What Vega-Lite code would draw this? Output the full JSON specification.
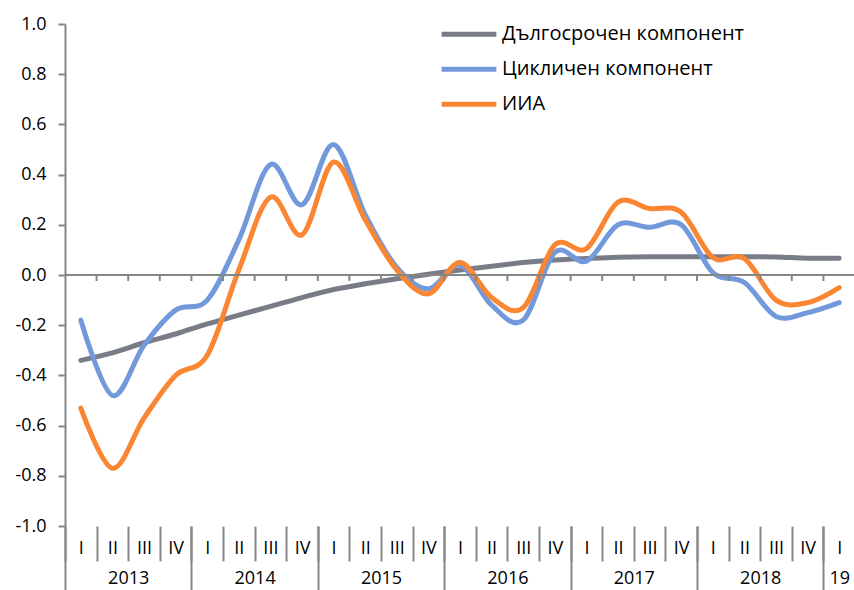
{
  "$schema": "https://vega.github.io/schema/vega-lite/v6.json",
  "width": 790,
  "height": 502,
  "autosize": "none",
  "padding": {"left": 65, "top": 24, "right": 0, "bottom": 64},
  "background": "white",
  "config": {
    "view": {"stroke": null},
    "font": "Open Sans",
    "axis": {"labelFont": "Open Sans", "labelColor": "#000000", "grid": false, "title": null}
  },
  "datasets": {
    "series": [
      {"t": 0, "s": "Дългосрочен компонент", "v": -0.34},
      {"t": 1, "s": "Дългосрочен компонент", "v": -0.31},
      {"t": 2, "s": "Дългосрочен компонент", "v": -0.27},
      {"t": 3, "s": "Дългосрочен компонент", "v": -0.235},
      {"t": 4, "s": "Дългосрочен компонент", "v": -0.195},
      {"t": 5, "s": "Дългосрочен компонент", "v": -0.16},
      {"t": 6, "s": "Дългосрочен компонент", "v": -0.125},
      {"t": 7, "s": "Дългосрочен компонент", "v": -0.09},
      {"t": 8, "s": "Дългосрочен компонент", "v": -0.058},
      {"t": 9, "s": "Дългосрочен компонент", "v": -0.035},
      {"t": 10, "s": "Дългосрочен компонент", "v": -0.015},
      {"t": 11, "s": "Дългосрочен компонент", "v": 0.003},
      {"t": 12, "s": "Дългосрочен компонент", "v": 0.02},
      {"t": 13, "s": "Дългосрочен компонент", "v": 0.035},
      {"t": 14, "s": "Дългосрочен компонент", "v": 0.05},
      {"t": 15, "s": "Дългосрочен компонент", "v": 0.06},
      {"t": 16, "s": "Дългосрочен компонент", "v": 0.066},
      {"t": 17, "s": "Дългосрочен компонент", "v": 0.071},
      {"t": 18, "s": "Дългосрочен компонент", "v": 0.073},
      {"t": 19, "s": "Дългосрочен компонент", "v": 0.073},
      {"t": 20, "s": "Дългосрочен компонент", "v": 0.073},
      {"t": 21, "s": "Дългосрочен компонент", "v": 0.073},
      {"t": 22, "s": "Дългосрочен компонент", "v": 0.072},
      {"t": 23, "s": "Дългосрочен компонент", "v": 0.067},
      {"t": 24, "s": "Дългосрочен компонент", "v": 0.067},
      {"t": 0, "s": "Цикличен компонент", "v": -0.18},
      {"t": 1, "s": "Цикличен компонент", "v": -0.48},
      {"t": 2, "s": "Цикличен компонент", "v": -0.28},
      {"t": 3, "s": "Цикличен компонент", "v": -0.14},
      {"t": 4, "s": "Цикличен компонент", "v": -0.10},
      {"t": 5, "s": "Цикличен компонент", "v": 0.14},
      {"t": 6, "s": "Цикличен компонент", "v": 0.44},
      {"t": 7, "s": "Цикличен компонент", "v": 0.28},
      {"t": 8, "s": "Цикличен компонент", "v": 0.52},
      {"t": 9, "s": "Цикличен компонент", "v": 0.24},
      {"t": 10, "s": "Цикличен компонент", "v": 0.03},
      {"t": 11, "s": "Цикличен компонент", "v": -0.055},
      {"t": 12, "s": "Цикличен компонент", "v": 0.04},
      {"t": 13, "s": "Цикличен компонент", "v": -0.12},
      {"t": 14, "s": "Цикличен компонент", "v": -0.18},
      {"t": 15, "s": "Цикличен компонент", "v": 0.09},
      {"t": 16, "s": "Цикличен компонент", "v": 0.055},
      {"t": 17, "s": "Цикличен компонент", "v": 0.20},
      {"t": 18, "s": "Цикличен компонент", "v": 0.19},
      {"t": 19, "s": "Цикличен компонент", "v": 0.20},
      {"t": 20, "s": "Цикличен компонент", "v": 0.01},
      {"t": 21, "s": "Цикличен компонент", "v": -0.03},
      {"t": 22, "s": "Цикличен компонент", "v": -0.165},
      {"t": 23, "s": "Цикличен компонент", "v": -0.15},
      {"t": 24, "s": "Цикличен компонент", "v": -0.11},
      {"t": 0, "s": "ИИА", "v": -0.53},
      {"t": 1, "s": "ИИА", "v": -0.77},
      {"t": 2, "s": "ИИА", "v": -0.57},
      {"t": 3, "s": "ИИА", "v": -0.40},
      {"t": 4, "s": "ИИА", "v": -0.32},
      {"t": 5, "s": "ИИА", "v": 0.02},
      {"t": 6, "s": "ИИА", "v": 0.31},
      {"t": 7, "s": "ИИА", "v": 0.16},
      {"t": 8, "s": "ИИА", "v": 0.45},
      {"t": 9, "s": "ИИА", "v": 0.22},
      {"t": 10, "s": "ИИА", "v": 0.02},
      {"t": 11, "s": "ИИА", "v": -0.075},
      {"t": 12, "s": "ИИА", "v": 0.05},
      {"t": 13, "s": "ИИА", "v": -0.09},
      {"t": 14, "s": "ИИА", "v": -0.13},
      {"t": 15, "s": "ИИА", "v": 0.12},
      {"t": 16, "s": "ИИА", "v": 0.105},
      {"t": 17, "s": "ИИА", "v": 0.29},
      {"t": 18, "s": "ИИА", "v": 0.265},
      {"t": 19, "s": "ИИА", "v": 0.25},
      {"t": 20, "s": "ИИА", "v": 0.07},
      {"t": 21, "s": "ИИА", "v": 0.065},
      {"t": 22, "s": "ИИА", "v": -0.10},
      {"t": 23, "s": "ИИА", "v": -0.11},
      {"t": 24, "s": "ИИА", "v": -0.05}
    ],
    "bounds": [
      {"b": 0.5}, {"b": 1.5}, {"b": 2.5}, {"b": 3.5}, {"b": 4.5}, {"b": 5.5},
      {"b": 6.5}, {"b": 7.5}, {"b": 8.5}, {"b": 9.5}, {"b": 10.5}, {"b": 11.5},
      {"b": 12.5}, {"b": 13.5}, {"b": 14.5}, {"b": 15.5}, {"b": 16.5}, {"b": 17.5},
      {"b": 18.5}, {"b": 19.5}, {"b": 20.5}, {"b": 21.5}, {"b": 22.5}, {"b": 23.5}
    ]
  },
  "layer": [
    {
      "data": {"name": "series"},
      "mark": {"type": "line", "strokeWidth": 5, "interpolate": "cardinal", "strokeCap": "round", "strokeJoin": "round"},
      "encoding": {
        "x": {
          "field": "t", "type": "quantitative",
          "scale": {"domain": [-0.5, 24.5], "nice": false, "zero": false},
          "axis": {
            "orient": "bottom",
            "values": [-0.5, 0.5, 1.5, 2.5, 3.5, 4.5, 5.5, 6.5, 7.5, 8.5, 9.5, 10.5, 11.5, 12.5, 13.5, 14.5, 15.5, 16.5, 17.5, 18.5, 19.5, 20.5, 21.5, 22.5, 23.5],
            "domain": false,
            "tickSize": 35,
            "tickWidth": 2,
            "tickColor": "#868686",
            "labelExpr": "['I','II','III','IV'][round(datum.value + 0.5) % 4]",
            "labelOffset": 15.8,
            "labelPadding": -13,
            "labelBaseline": "middle",
            "labelAlign": "center",
            "labelFontSize": 18,
            "labelOverlap": false,
            "labelFlush": false,
            "labelBound": false
          }
        },
        "y": {
          "field": "v", "type": "quantitative",
          "scale": {"domain": [-1, 1], "nice": false},
          "axis": {
            "values": [-1, -0.8, -0.6, -0.4, -0.2, 0, 0.2, 0.4, 0.6, 0.8, 1],
            "labelExpr": "replace(format(datum.value, '.1f'), '\u2212', '-')",
            "domainColor": "#868686",
            "domainWidth": 2,
            "tickColor": "#868686",
            "tickWidth": 2,
            "tickSize": 7,
            "labelPadding": 12,
            "labelFontSize": 18
          }
        },
        "color": {
          "field": "s", "type": "nominal",
          "scale": {
            "domain": ["Дългосрочен компонент", "Цикличен компонент", "ИИА"],
            "range": ["#787C86", "#7299DC", "#FA8632"]
          },
          "legend": {
            "orient": "none",
            "legendX": 374,
            "legendY": -7,
            "title": null,
            "symbolType": "stroke",
            "symbolSize": 3000,
            "symbolStrokeWidth": 5,
            "labelFontSize": 20,
            "labelFont": "Open Sans",
            "labelColor": "#000000",
            "labelOffset": 3,
            "clipHeight": 34.5,
            "rowPadding": 0,
            "labelLimit": 400
          }
        }
      }
    },
    {
      "data": {"values": [{}]},
      "mark": {"type": "rule", "color": "#868686", "strokeWidth": 2},
      "encoding": {
        "y": {"datum": 0, "type": "quantitative"}
      }
    },
    {
      "data": {"name": "bounds"},
      "mark": {"type": "rule", "color": "#868686", "strokeWidth": 2},
      "encoding": {
        "x": {
          "field": "b", "type": "quantitative",
          "scale": {"domain": [-0.5, 24.5], "nice": false, "zero": false},
          "axis": {
            "orient": "bottom",
            "values": [-0.5, 3.5, 7.5, 11.5, 15.5, 19.5, 23.5],
            "domain": false,
            "tickSize": 66,
            "tickWidth": 2,
            "tickColor": "#868686",
            "labelExpr": "datum.value > 23 ? '19' : '' + (2013 + round((datum.value + 0.5) / 4))",
            "labelOffset": {"condition": {"test": "datum.value > 23", "value": 15.8}, "value": 63.2},
            "labelPadding": -14,
            "labelBaseline": "middle",
            "labelAlign": "center",
            "labelFontSize": 18,
            "labelOverlap": false,
            "labelFlush": false,
            "labelBound": false
          }
        },
        "y": {"datum": 0, "type": "quantitative"},
        "y2": {"datum": -0.024}
      }
    }
  ],
  "resolve": {"axis": {"x": "independent"}}
}
